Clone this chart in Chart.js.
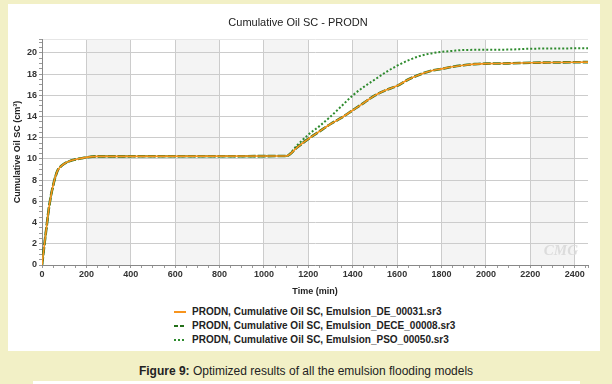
<!DOCTYPE html>
<html>
<head>
<meta charset="utf-8">
<script src="https://cdn.jsdelivr.net/npm/chart.js@4.4.0/dist/chart.umd.min.js"></script>
<style>
  html, body { margin: 0; padding: 0; }
  body { width: 612px; height: 384px; background: #f2f0c6; position: relative; overflow: hidden; font-family: "Liberation Sans", Arial, sans-serif; }
  #panel { position: absolute; left: 8px; top: 4px; width: 592px; height: 347px; background: #fff; }
  #wrap { position: absolute; left: 0; top: 0; width: 592px; height: 298px; }
  #legend { position: absolute; left: 166px; top: 301px; font: bold 10px "Liberation Sans", Arial, sans-serif; color: #222; }
  #legend div { height: 14px; line-height: 14px; white-space: nowrap; }
  #legend span.mk { display: inline-block; width: 12px; height: 2px; vertical-align: middle; margin-right: 6px; }
  #caption { position: absolute; left: 0; width: 612px; top: 364px; text-align: center; font: 12px "Liberation Sans", Arial, sans-serif; color: #222; }
  #strip { position: absolute; left: 33px; top: 381px; width: 547px; height: 3px; background: #fff; }
</style>
</head>
<body>
<div id="panel">
  <div id="wrap"><canvas id="grafico"></canvas></div>
  <div id="legend"></div>
</div>
<div id="caption"><b>Figure 9:</b> Optimized results of all the emulsion flooding models</div>
<div id="strip"></div>
<script>
// tiempos (min) y valores (cm3)
const tiempoDE = [0, 10, 20, 30, 40, 50, 60, 70, 80, 100, 125, 150, 200, 250, 1100, 1150, 1200, 1250, 1300, 1350, 1400, 1450, 1500, 1550, 1600, 1650, 1700, 1750, 1800, 1850, 1900, 1950, 2000, 2100, 2200, 2300, 2460];
const valorDE  = [0, 1.8, 3.5, 5.2, 6.5, 7.5, 8.3, 8.9, 9.2, 9.55, 9.8, 9.95, 10.15, 10.25, 10.28, 11.1, 11.9, 12.6, 13.3, 13.9, 14.6, 15.3, 16.0, 16.5, 16.9, 17.5, 17.95, 18.3, 18.5, 18.7, 18.85, 18.95, 19.0, 19.02, 19.08, 19.1, 19.14];
const tiempoDECE = [0, 10, 20, 30, 40, 50, 60, 70, 80, 100, 125, 150, 200, 250, 1100, 1150, 1200, 1250, 1300, 1350, 1400, 1450, 1500, 1550, 1600, 1650, 1700, 1750, 1800, 1850, 1900, 1950, 2000, 2100, 2200, 2300, 2460];
const valorDECE  = [0, 1.8, 3.5, 5.2, 6.5, 7.5, 8.3, 8.9, 9.2, 9.55, 9.8, 9.95, 10.15, 10.25, 10.28, 11.1, 11.9, 12.6, 13.3, 13.9, 14.6, 15.3, 16.0, 16.5, 16.9, 17.5, 17.95, 18.3, 18.5, 18.7, 18.85, 18.95, 19.0, 19.02, 19.08, 19.1, 19.14];
const tiempoPSO = [0, 10, 20, 30, 40, 50, 60, 70, 80, 100, 125, 150, 200, 250, 1100, 1150, 1200, 1250, 1300, 1350, 1400, 1450, 1500, 1550, 1600, 1650, 1700, 1750, 1800, 1850, 1900, 2000, 2100, 2200, 2300, 2460];
const valorPSO  = [0, 1.8, 3.5, 5.2, 6.5, 7.5, 8.3, 8.9, 9.2, 9.55, 9.8, 9.95, 10.15, 10.25, 10.28, 11.3, 12.3, 13.1, 14.0, 15.0, 16.0, 16.8, 17.5, 18.2, 18.8, 19.3, 19.7, 19.95, 20.1, 20.2, 20.28, 20.3, 20.32, 20.4, 20.42, 20.45];

const etiquetas = [
  'PRODN, Cumulative Oil SC, Emulsion_DE_00031.sr3',
  'PRODN, Cumulative Oil SC, Emulsion_DECE_00008.sr3',
  'PRODN, Cumulative Oil SC, Emulsion_PSO_00050.sr3'
];
const franjas = [[200, 400], [600, 800], [1000, 1200], [1400, 1600], [1800, 2000], [2200, 2400]];

const puntos = (xs, ys) => xs.map((t, i) => ({x: t, y: ys[i]}));

const fuente = {family: '"Liberation Sans", Arial, sans-serif', size: 9, weight: 'bold'};

// fondo con franjas grises y marca de agua
const fondo = {
  id: 'fondo',
  beforeDraw(chart) {
    const {ctx, chartArea, scales} = chart;
    ctx.save();
    ctx.fillStyle = '#f4f4f4';
    franjas.forEach(([a, b]) => {
      const x1 = scales.x.getPixelForValue(a), x2 = scales.x.getPixelForValue(b);
      ctx.fillRect(x1, chartArea.top, x2 - x1, chartArea.bottom - chartArea.top);
    });
    ctx.restore();
  },
  afterDraw(chart) {
    const {ctx, chartArea} = chart;
    ctx.save();
    ctx.font = 'italic bold 15px "Liberation Serif", serif';
    ctx.fillStyle = '#dcdcdc';
    ctx.textAlign = 'right';
    ctx.fillText('CMG', chartArea.right - 10, chartArea.bottom - 10);
    ctx.restore();
  }
};

const grafico = new Chart(document.getElementById('grafico'), {
  type: 'line',
  data: {
    datasets: [
      { label: etiquetas[0], data: puntos(tiempoDE, valorDE), borderColor: '#f7941d', borderWidth: 1.6, pointRadius: 0, cubicInterpolationMode: 'monotone' },
      { label: etiquetas[1], data: puntos(tiempoDECE, valorDECE), borderColor: '#24701a', borderWidth: 2.6, borderDash: [8, 2], pointRadius: 0, cubicInterpolationMode: 'monotone' },
      { label: etiquetas[2], data: puntos(tiempoPSO, valorPSO), borderColor: '#2e8b2e', borderWidth: 2, borderDash: [2, 2], pointRadius: 0, cubicInterpolationMode: 'monotone' }
    ]
  },
  options: {
    responsive: true,
    maintainAspectRatio: false,
    animation: false,
    layout: { padding: { right: 12, bottom: 0 } },
    plugins: {
      legend: { display: false },
      tooltip: { enabled: false },
      title: {
        display: true,
        text: 'Cumulative Oil SC - PRODN',
        color: '#222',
        font: { family: '"Liberation Sans", Arial, sans-serif', size: 11, weight: 'normal' },
        padding: { top: 12, bottom: 10 }
      }
    },
    scales: {
      x: {
        type: 'linear',
        min: 0,
        max: 2460,
        afterBuildTicks(scale) {
          const t = [];
          for (let v = 0; v <= 2450; v += 50) t.push({value: v});
          t.push({value: 2460});
          scale.ticks = t;
        },
        afterFit(scale) { scale.height = 37; },
        ticks: {
          autoSkip: false,
          maxRotation: 0,
          padding: 1,
          color: '#333',
          font: fuente,
          callback: v => (v % 200 === 0 ? v : '')
        },
        grid: {
          color: ctx => (ctx.tick && ctx.tick.value % 200 === 0 && ctx.tick.value > 0 ? '#cccccc' : 'rgba(0,0,0,0)'),
          tickColor: '#999',
          tickLength: 3
        },
        border: { color: '#888' },
        title: { display: true, text: 'Time (min)', color: '#222', font: fuente, padding: { top: 2, bottom: 5 } }
      },
      y: {
        min: 0,
        max: 21.3,
        afterBuildTicks(scale) {
          const t = [];
          for (let v = 0; v <= 21; v += 0.5) t.push({value: v});
          t.push({value: 21.3});
          scale.ticks = t;
        },
        afterFit(scale) { scale.width = 34; },
        ticks: {
          autoSkip: false,
          padding: 2,
          color: '#333',
          font: fuente,
          callback: v => (Math.abs(v % 2) < 1e-9 ? v : '')
        },
        grid: {
          color: ctx => (ctx.tick && Math.abs(ctx.tick.value % 2) < 1e-9 && ctx.tick.value > 0 ? '#cccccc' : (ctx.tick && ctx.tick.value > 21 ? '#e6e6e6' : 'rgba(0,0,0,0)')),
          tickColor: '#999',
          tickLength: 3
        },
        border: { color: '#888' },
        title: { display: true, text: 'Cumulative Oil SC (cm³)', color: '#222', font: fuente, padding: { top: 4, bottom: 2 } }
      }
    }
  },
  plugins: [fondo]
});

// leyenda en columna
const estilos = [
  '#f7941d',
  'repeating-linear-gradient(90deg, #24701a 0 4px, transparent 4px 6px)',
  'repeating-linear-gradient(90deg, #2e8b2e 0 2px, transparent 2px 4px)'
];
document.getElementById('legend').innerHTML = grafico.data.datasets.map((d, i) =>
  `<div><span class="mk" style="background:${estilos[i]}"></span>${d.label}</div>`).join('');
</script>
</body>
</html>
